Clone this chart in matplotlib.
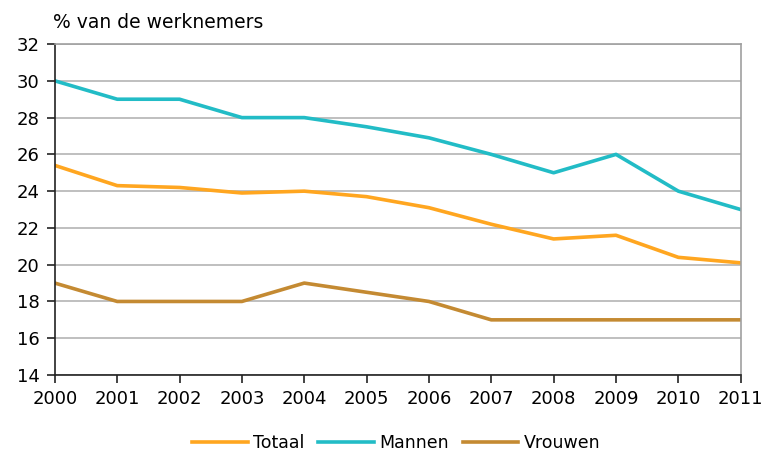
import matplotlib
matplotlib.use("Agg")
import matplotlib.pyplot as plt

# Data
years = [2000, 2001, 2002, 2003, 2004, 2005, 2006, 2007, 2008, 2009, 2010, 2011]
totaal = [25.4, 24.3, 24.2, 23.9, 24.0, 23.7, 23.1, 22.2, 21.4, 21.6, 20.4, 20.1]
mannen = [30.0, 29.0, 29.0, 28.0, 28.0, 27.5, 26.9, 26.0, 25.0, 26.0, 24.0, 23.0]
vrouwen = [19.0, 18.0, 18.0, 18.0, 19.0, 18.5, 18.0, 17.0, 17.0, 17.0, 17.0, 17.0]
y_ticks = [14, 16, 18, 20, 22, 24, 26, 28, 30, 32]

plt.rcParams["font.family"] = ["DejaVu Sans"]

fig = plt.figure(figsize=(7.62, 4.59), dpi=100)
ax = fig.add_axes([0.072, 0.183, 0.9, 0.721])

ax.plot(years, totaal, color="#FFA620", lw=2.6, label="Totaal")
ax.plot(years, mannen, color="#22BCC6", lw=2.6, label="Mannen")
ax.plot(years, vrouwen, color="#C48A32", lw=2.6, label="Vrouwen")

ax.set_xlim(2000, 2011)
ax.set_ylim(14, 32)
ax.set_xticks(years)
ax.set_yticks(y_ticks)
ax.yaxis.grid(True, color="#b4b4b4", lw=1.2)
ax.set_axisbelow(True)

for side in ["top", "right"]:
    ax.spines[side].set_color("#a0a0a0")
    ax.spines[side].set_linewidth(1.2)
for side in ["left", "bottom"]:
    ax.spines[side].set_color("#222222")
    ax.spines[side].set_linewidth(1.2)

ax.tick_params(axis="both", direction="out", length=6, width=1.2,
               color="#222222", labelsize=13, pad=5)

fig.text(0.07, 0.95, "% van de werknemers", fontsize=13.5, ha="left", va="center")

fig.legend(loc="center", bbox_to_anchor=(0.52, 0.035), ncol=3, frameon=False,
           fontsize=12.5, handlelength=3.2, columnspacing=0.8, handletextpad=0.3)

fig.savefig("out.png", dpi=100)
